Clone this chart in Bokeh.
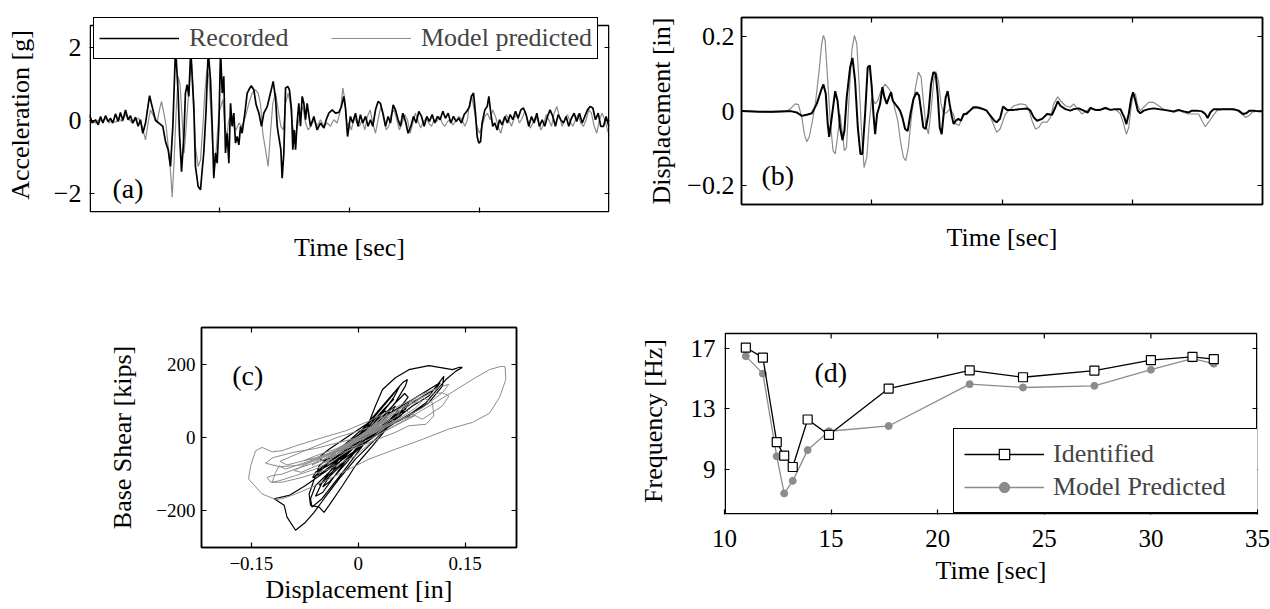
from bokeh.plotting import figure
from bokeh.layouts import column, row
from bokeh.models import (Range1d, FixedTicker, LinearAxis, CustomJSTickFormatter,
                          Legend, LegendItem, Label, BoxAnnotation)
from bokeh.embed import file_html
from bokeh.resources import INLINE

FONT = "Liberation Serif"
GRAY = "#8c8c8c"

# ---------------- (a) acceleration time history: (time, g) ----------------
acc_recorded = [
    (0.0,0.16),(0.21,-0.07),(0.46,0.02),(0.67,-0.12),(0.85,0.11),(1.03,-0.07),(1.23,0.13),(1.44,-0.03),
    (1.62,0.06),(1.79,-0.07),(2.0,0.18),(2.21,-0.03),(2.38,0.22),(2.56,0.0),(2.77,0.29),(2.97,0.02),
    (3.15,0.13),(3.33,-0.07),(3.54,0.09),(3.74,-0.16),(3.92,0.02),(4.10,-0.35),(4.31,-0.07),(4.62,0.68),
    (4.82,0.38),(5.08,0.0),(5.33,-0.07),(5.64,-0.16),(5.85,-0.58),(6.05,-0.80),(6.23,-1.26),(6.41,-0.16),
    (6.62,2.0),(6.82,0.75),(6.92,-0.35),(7.08,-1.40),(7.26,-0.44),(7.38,0.75),(7.51,0.98),(7.64,0.66),
    (7.79,1.95),(8.03,0.29),(8.15,-1.26),(8.36,-1.81),(8.54,-1.90),(8.67,-1.35),(8.79,-0.89),(8.97,0.29),
    (9.13,1.9),(9.31,1.11),(9.44,-0.16),(9.56,-1.58),(9.69,-0.89),(9.82,-1.17),(9.95,-0.16),(10.08,1.9),
    (10.21,0.75),(10.33,1.21),(10.46,-0.89),(10.59,-0.35),(10.72,-1.17),(10.85,0.47),(10.97,-0.16),(11.10,0.20),
    (11.23,-0.62),(11.36,-0.44),(11.49,-0.67),(11.62,-0.16),(11.74,-0.35),(11.95,0.20),(12.13,0.75),(12.26,0.84),
    (12.44,0.95),(12.64,0.84),(12.82,0.43),(13.03,0.20),(13.23,-0.16),(13.41,0.20),(13.67,0.38),(13.92,0.75),
    (14.13,1.07),(14.31,0.61),(14.44,-0.16),(14.56,-0.44),(14.72,-0.80),(14.82,-1.58),(14.95,-0.89),(15.08,0.89),
    (15.26,0.93),(15.38,0.84),(15.54,0.29),(15.64,-0.80),(15.74,-0.26),(15.85,-0.80),(15.97,-0.07),(16.10,0.47),
    (16.23,-0.16),(16.36,0.66),(16.49,0.47),(16.62,0.02),(16.74,0.47),(17.0,-0.16),(17.26,0.11),(17.51,-0.26),
    (17.77,-0.07),(18.03,-0.21),(18.21,0.02),(18.41,0.20),(18.67,0.29),(18.92,0.20),(19.18,0.22),(19.38,0.38),
    (19.56,0.66),(19.69,0.34),(19.85,-0.44),(20.07,0.11),(20.25,-0.07),(20.46,0.20),(20.66,-0.16),(20.84,0.16),
    (21.02,-0.07),(21.23,0.11),(21.43,-0.16),(21.61,0.02),(21.79,-0.16),(22.0,0.29),(22.20,0.52),(22.38,0.47),
    (22.56,0.20),(22.77,-0.16),(22.97,0.11),(23.15,-0.07),(23.36,0.43),(23.54,0.29),(23.74,0.02),(23.92,-0.16),
    (24.10,0.20),(24.31,-0.03),(24.51,-0.35),(24.72,-0.16),(24.92,0.11),(25.13,-0.07),(25.33,0.25),(25.54,0.11),
    (25.74,-0.16),(25.95,0.11),(26.15,-0.03),(26.36,0.16),(26.56,-0.07),(26.77,0.11),(26.97,0.02),(27.18,0.25),
    (27.38,0.06),(27.59,0.20),(27.79,-0.07),(28.0,0.11),(28.2,-0.03),(28.41,0.06),(28.61,-0.07),(28.82,0.16),
    (29.02,0.25),(29.23,0.38),(29.38,0.66),(29.54,0.75),(29.69,0.20),(29.82,-0.44),(29.95,-0.62),(30.08,-0.58),
    (30.2,-0.07),(30.41,0.29),(30.59,0.38),(30.72,0.66),(30.87,0.20),(31.02,-0.16),(31.18,-0.07),(31.36,-0.26),
    (31.54,0.02),(31.74,-0.12),(31.95,0.11),(32.15,-0.07),(32.36,0.16),(32.56,0.02),(32.77,0.25),(32.97,0.06),
    (33.18,0.29),(33.38,0.34),(33.59,0.16),(33.79,-0.16),(34.0,0.11),(34.2,-0.07),(34.41,0.20),(34.61,-0.16),
    (34.82,0.02),(35.02,-0.16),(35.23,0.11),(35.43,0.29),(35.64,0.11),(35.84,-0.16),(36.05,0.16),(36.25,0.02),
    (36.46,-0.07),(36.66,0.11),(36.87,-0.16),(37.07,0.06),(37.28,0.20),(37.48,-0.03),(37.69,0.20),(37.9,-0.07),
    (38.1,0.11),(38.31,0.29),(38.51,0.38),(38.72,0.34),(38.92,0.02),(39.13,0.20),(39.33,-0.16),(39.54,-0.16),
    (39.74,0.11),(39.95,-0.16),
]
acc_model = [
    (0.0,0.11),(0.21,-0.03),(0.46,-0.07),(0.72,0.02),(0.97,-0.03),(1.23,0.06),(1.49,-0.07),(1.74,0.0),
    (2.0,-0.05),(2.26,0.04),(2.51,-0.03),(2.77,0.16),(3.03,0.04),(3.28,-0.07),(3.54,0.02),(3.79,0.06),
    (4.05,-0.16),(4.31,-0.53),(4.51,-0.07),(4.69,0.29),(4.95,0.11),(5.21,-0.03),(5.38,0.29),(5.54,0.52),
    (5.72,0.20),(5.90,-0.16),(6.10,-0.89),(6.26,-1.53),(6.36,-2.10),(6.51,-1.08),(6.67,0.29),(6.82,1.21),
    (6.97,0.98),(7.13,0.02),(7.28,-0.89),(7.44,-0.16),(7.59,0.57),(7.74,1.21),(7.85,1.57),(8.0,0.75),
    (8.15,-0.71),(8.36,-1.26),(8.54,-1.08),(8.72,-0.16),(8.87,0.75),(9.03,1.39),(9.18,1.21),(9.33,0.29),
    (9.49,-0.80),(9.64,-1.26),(9.79,-0.62),(9.95,0.20),(10.10,0.38),(10.26,0.57),(10.41,-0.16),(10.56,-0.44),
    (10.72,0.02),(10.92,0.11),(11.10,-0.16),(11.28,-0.26),(11.49,-0.07),(11.74,-0.16),(12.0,0.11),(12.26,0.47),
    (12.51,0.75),(12.77,0.84),(12.97,0.75),(13.15,0.47),(13.33,-0.35),(13.54,-0.80),(13.74,-1.26),(13.92,-0.35),
    (14.10,0.47),(14.31,0.75),(14.51,0.29),(14.72,-0.16),(14.92,-0.26),(15.08,0.47),(15.28,0.75),(15.44,0.47),
    (15.59,-0.07),(15.79,-0.44),(16.0,-0.16),(16.23,0.20),(16.41,0.38),(16.62,-0.07),(16.82,-0.26),(17.03,-0.16),
    (17.26,0.02),(17.51,-0.16),(17.77,0.02),(18.03,-0.16),(18.28,-0.07),(18.54,-0.16),(18.79,0.02),(19.05,-0.07),
    (19.31,0.29),(19.49,0.89),(19.64,0.57),(19.82,-0.16),(19.95,-0.07),(20.15,-0.26),(20.36,0.11),(20.56,-0.07),
    (20.77,-0.16),(20.97,0.02),(21.18,-0.26),(21.38,0.11),(21.59,0.29),(21.79,-0.07),(22.0,-0.35),(22.2,0.02),
    (22.41,0.38),(22.61,0.20),(22.82,-0.26),(23.02,-0.16),(23.23,0.20),(23.43,0.29),(23.64,0.02),(23.84,-0.26),
    (24.05,-0.07),(24.25,0.16),(24.46,0.02),(24.66,-0.35),(24.87,-0.07),(25.07,0.20),(25.28,-0.03),(25.48,-0.21),
    (25.69,-0.03),(25.90,0.06),(26.1,-0.07),(26.31,-0.16),(26.51,0.02),(26.72,-0.03),(26.92,0.11),(27.13,-0.07),
    (27.33,-0.16),(27.54,-0.03),(27.74,0.02),(27.95,-0.12),(28.15,-0.03),(28.41,0.11),(28.66,0.02),(28.87,-0.16),
    (29.07,0.02),(29.23,0.47),(29.38,0.70),(29.59,0.29),(29.79,-0.16),(30.0,-0.35),(30.2,-0.16),(30.41,0.11),
    (30.61,0.20),(30.82,0.02),(31.02,0.29),(31.23,0.11),(31.43,-0.16),(31.64,-0.35),(31.84,-0.07),(32.05,0.16),
    (32.25,0.02),(32.46,-0.16),(32.66,0.06),(32.87,0.16),(33.07,-0.07),(33.28,0.06),(33.48,0.25),(33.69,0.02),
    (33.9,-0.21),(34.1,-0.07),(34.31,0.11),(34.51,-0.03),(34.72,-0.26),(34.92,-0.12),(35.13,0.16),(35.33,0.02),
    (35.54,-0.16),(35.74,0.20),(35.95,0.38),(36.15,0.11),(36.36,-0.16),(36.56,0.02),(36.77,0.16),(36.97,-0.03),
    (37.18,-0.16),(37.38,0.02),(37.59,0.16),(37.79,-0.07),(38.0,-0.16),(38.2,0.02),(38.41,0.29),(38.61,0.20),
    (38.82,-0.16),(39.02,-0.35),(39.23,0.02),(39.43,0.20),(39.64,0.02),(39.85,-0.26),(40.0,-0.44),
]

# ---------------- (b) displacement time history: (time, in) ----------------
disp_recorded = [
    (0.0,0.0),(1.30,-0.002),(2.33,-0.002),(3.35,-0.001),(3.86,-0.001),(4.25,-0.004),(4.63,-0.013),(5.01,-0.010),
    (5.40,-0.006),(5.78,0.019),(6.11,0.055),(6.29,0.071),(6.47,0.046),(6.62,-0.035),(6.73,-0.069),(6.93,-0.017),
    (7.19,0.053),(7.37,0.028),(7.57,-0.044),(7.75,-0.078),(7.90,-0.053),(8.08,0.037),(8.34,0.117),(8.52,0.142),
    (8.72,0.081),(8.93,-0.044),(9.13,-0.115),(9.28,-0.115),(9.49,-0.008),(9.69,0.117),(9.85,0.122),(10.0,0.064),
    (10.13,-0.008),(10.26,-0.062),(10.41,-0.008),(10.64,0.019),(10.82,0.064),(10.97,0.037),(11.15,0.019),(11.33,0.037),
    (11.48,0.050),(11.61,0.028),(11.79,0.019),(12.0,0.010),(12.17,0.001),(12.35,-0.017),(12.56,-0.048),(12.76,-0.053),
    (12.97,-0.008),(13.20,0.032),(13.45,0.050),(13.63,0.041),(13.79,0.001),(13.96,-0.044),(14.14,-0.048),(14.35,-0.008),
    (14.55,0.072),(14.73,0.104),(14.91,0.099),(15.06,0.046),(15.22,-0.044),(15.37,-0.062),(15.52,-0.008),(15.68,0.037),
    (15.83,0.053),(15.98,0.019),(16.14,-0.013),(16.29,-0.035),(16.45,-0.026),(16.65,-0.021),(16.85,-0.026),(17.06,-0.008),
    (17.26,-0.008),(17.54,0.001),(17.80,0.010),(18.06,0.010),(18.31,0.008),(18.57,0.005),(18.82,0.001),(19.0,-0.008),
    (19.21,-0.017),(19.41,-0.026),(19.59,-0.030),(19.85,-0.020),(20.08,0.012),(20.39,0.003),(20.90,0.003),(21.41,0.005),
    (21.93,0.007),(22.18,0.001),(22.44,-0.017),(22.69,-0.026),(23.08,-0.021),(23.46,-0.008),(23.84,-0.010),(24.10,0.010),
    (24.28,0.026),(24.48,0.014),(24.87,0.005),(25.25,0.001),(25.51,0.005),(25.89,0.007),(26.27,0.001),(26.58,-0.004),
    (26.79,0.008),(27.17,0.003),(27.55,0.003),(27.94,0.008),(28.32,0.003),(28.70,0.005),(29.09,0.005),(29.39,-0.017),
    (29.55,-0.035),(29.73,-0.008),(29.91,0.032),(30.06,0.050),(30.24,0.028),(30.42,0.001),(30.62,-0.006),(30.88,0.001),
    (31.26,0.005),(31.64,0.007),(32.03,0.005),(32.41,0.003),(32.80,0.001),(33.18,-0.001),(33.56,0.003),(33.95,-0.001),
    (34.33,-0.004),(34.59,0.001),(34.97,0.001),(35.35,-0.001),(35.61,-0.008),(35.79,-0.019),(35.99,-0.004),(36.25,0.005),
    (36.76,0.005),(37.27,0.005),(37.78,0.005),(38.17,0.001),(38.50,-0.008),(38.75,-0.006),(39.01,0.001),(39.32,0.001),
    (39.70,-0.001),(39.96,-0.001),
]
disp_model = [
    (0.0,0.001),(1.05,-0.001),(2.33,-0.004),(3.35,-0.002),(3.73,0.005),(4.12,0.019),(4.37,0.017),(4.63,-0.017),
    (4.83,-0.062),(5.01,-0.082),(5.19,-0.071),(5.45,-0.026),(5.70,0.028),(5.96,0.108),(6.16,0.180),(6.29,0.202),
    (6.42,0.189),(6.62,0.081),(6.83,-0.035),(7.03,-0.106),(7.19,-0.115),(7.37,-0.071),(7.57,-0.008),(7.75,-0.062),
    (7.90,-0.106),(8.06,-0.098),(8.26,0.037),(8.47,0.162),(8.67,0.202),(8.85,0.180),(9.03,0.072),(9.23,-0.062),
    (9.41,-0.151),(9.62,-0.124),(9.80,-0.035),(10.0,0.037),(10.26,0.019),(10.46,0.028),(10.72,0.055),(11.02,0.072),
    (11.33,0.059),(11.53,0.046),(11.74,0.010),(12.0,-0.026),(12.20,-0.080),(12.43,-0.124),(12.61,-0.133),(12.81,-0.098),
    (13.07,-0.008),(13.32,0.055),(13.58,0.104),(13.79,0.090),(13.96,0.028),(14.14,-0.035),(14.35,-0.062),(14.55,0.001),
    (14.76,0.081),(14.91,0.106),(15.12,0.081),(15.32,0.019),(15.52,-0.008),(15.75,-0.004),(16.01,0.005),(16.27,-0.008),
    (16.47,-0.035),(16.70,-0.039),(16.96,-0.017),(17.29,-0.004),(17.67,0.005),(18.06,0.008),(18.44,0.005),(18.82,0.001),
    (19.08,-0.013),(19.33,-0.035),(19.59,-0.057),(19.85,-0.048),(20.08,-0.026),(20.26,-0.008),(20.52,0.001),(20.90,0.014),
    (21.41,0.019),(21.80,0.017),(22.05,0.005),(22.31,-0.026),(22.57,-0.048),(22.82,-0.044),(23.08,-0.030),(23.46,-0.030),
    (23.72,-0.017),(23.97,0.019),(24.28,0.038),(24.53,0.026),(24.87,0.014),(25.25,0.010),(25.51,0.019),(25.81,0.005),
    (26.15,-0.008),(26.53,0.001),(26.79,0.010),(27.17,0.003),(27.55,0.005),(27.94,0.010),(28.32,0.003),(28.70,0.005),
    (29.09,-0.008),(29.34,-0.035),(29.55,-0.062),(29.73,-0.044),(29.91,0.010),(30.06,0.041),(30.24,0.046),(30.42,0.014),
    (30.62,0.001),(30.88,0.010),(31.26,0.023),(31.64,0.023),(32.03,0.014),(32.41,0.005),(32.80,0.001),(33.18,-0.004),
    (33.56,0.001),(33.95,-0.004),(34.33,-0.008),(34.71,-0.008),(35.10,-0.008),(35.35,-0.026),(35.61,-0.042),(35.86,-0.030),
    (36.12,-0.017),(36.50,0.001),(37.01,0.005),(37.53,0.005),(38.04,0.001),(38.42,-0.008),(38.68,-0.017),(38.93,-0.013),
    (39.19,-0.004),(39.57,0.001),(39.96,0.001),
]

# ---------------- (c) hysteresis: (displacement in, base shear kips) ----------------
hyst_recorded = [
    (0.0,0),(0.024,41),(0.034,59),(0.024,32),(-0.004,-9),(-0.032,-50),(-0.041,-59),(-0.027,-45),
    (0.006,14),(0.043,72),(0.052,86),(0.048,72),(0.015,14),(-0.027,-59),(-0.051,-86),(-0.058,-95),
    (-0.055,-77),(-0.032,-41),(0.006,23),(0.034,86),(0.062,149),(0.069,158),(0.066,140),(0.052,95),
    (0.024,32),(-0.013,-41),(-0.041,-95),(-0.060,-131),(-0.067,-167),(-0.065,-190),(-0.051,-167),(-0.022,-95),
    (0.006,-23),(0.015,41),(0.024,86),(0.034,131),(0.052,163),(0.071,185),(0.099,196),(0.118,190),
    (0.132,185),(0.141,191),(0.146,191),(0.137,181),(0.123,158),(0.109,127),(0.095,95),(0.076,68),
    (0.052,41),(0.024,5),(-0.008,-41),(-0.041,-86),(-0.074,-131),(-0.097,-158),(-0.118,-167),(-0.104,-185),
    (-0.100,-217),(-0.088,-253),(-0.074,-231),(-0.062,-204),(-0.048,-167),(-0.027,-113),(-0.004,-59),(0.024,-5),
    (0.052,50),(0.076,86),(0.099,113),(0.120,167),(0.118,140),(0.099,95),(0.071,59),(0.034,23),
    (-0.004,-23),(-0.041,-68),(-0.060,-104),(-0.069,-154),(-0.067,-185),(-0.055,-190),(-0.048,-204),(-0.041,-185),
    (-0.022,-131),(-0.004,-77),(0.020,-23),(0.043,32),(0.062,77),(0.071,95),(0.066,77),(0.043,41),
    (0.006,-9),(-0.027,-50),(-0.051,-63),(-0.055,-54),(-0.041,-32),(-0.013,5),(0.015,41),(0.038,72),
    (0.043,68),(0.024,41),(-0.008,-5),(-0.032,-36),(-0.036,-45),(-0.022,-27),(0.0,0),
    (0.02,30),(0.05,110),(0.058,140),(0.05,120),(0.02,50),(-0.02,-40),(-0.05,-120),(-0.06,-160),
    (-0.05,-150),(-0.02,-70),(0.01,0),(0.04,70),(0.065,120),(0.07,110),(0.05,60),(0.0,-30),
    (-0.04,-100),(-0.055,-130),(-0.045,-115),(-0.01,-50),(0.03,20),(0.06,60),(0.065,75),(0.05,55),
    (0.01,-5),(-0.03,-60),(-0.045,-80),(-0.03,-60),(0.0,-10),(0.03,40),(0.045,70),(0.03,50),
    (0.09,120),(0.115,150),(0.11,135),(0.08,100),(0.03,30),(-0.03,-50),(-0.06,-95),(-0.064,-110),
    (-0.05,-95),(-0.01,-35),(0.02,15),(0.0,0),
    (0.02,35),(0.045,95),(0.05,105),(0.035,75),(0.0,0),(-0.03,-75),(-0.045,-120),(-0.05,-135),
    (-0.04,-120),(-0.015,-65),(0.015,10),(0.0,0),
]
hyst_model = [
    (0.0,0),(0.020,32),(0.027,45),(0.015,18),(-0.013,-23),(-0.027,-41),(-0.018,-27),(0.010,14),
    (0.029,50),(0.034,59),(0.024,36),(-0.004,-9),(-0.032,-50),(-0.036,-54),(-0.022,-36),(0.006,5),
    (0.031,45),(0.041,66),(0.034,50),(0.006,5),(-0.022,-36),(-0.041,-63),(-0.046,-68),(-0.032,-50),
    (-0.004,-9),(0.034,50),(0.071,95),(0.099,118),(0.118,122),(0.127,113),(0.118,86),(0.090,50),
    (0.062,77),(0.090,109),(0.104,95),(0.106,59),(0.095,36),(0.071,32),(0.052,14),(0.015,-14),
    (-0.022,-41),(-0.060,-68),(-0.088,-86),(-0.107,-100),(-0.121,-104),(-0.128,-109),(-0.123,-122),(-0.107,-122),
    (-0.079,-109),(-0.041,-86),(-0.004,-50),(0.034,14),(0.076,59),(0.123,113),(0.160,158),(0.184,185),
    (0.200,194),(0.206,193),(0.207,158),(0.198,109),(0.184,66),(0.160,41),(0.127,23),(0.090,-5),
    (0.052,-32),(0.015,-59),(-0.022,-95),(-0.060,-131),(-0.088,-154),(-0.107,-167),(-0.116,-169),(-0.135,-154),
    (-0.154,-113),(-0.151,-77),(-0.144,-36),(-0.135,-27),(-0.121,-39),(-0.107,-36),(-0.088,-23),(-0.065,-9),
    (-0.041,5),(-0.018,18),(0.015,45),(0.052,81),(0.090,118),(0.118,140),(0.127,145),(0.118,122),
    (0.090,81),(0.052,41),(0.015,5),(-0.022,-27),(-0.060,-59),(-0.088,-77),(-0.102,-86),(-0.111,-77),
    (-0.116,-95),(-0.121,-122),(-0.111,-118),(-0.088,-104),(-0.060,-86),(-0.032,-59),(-0.004,-23),(0.020,14),
    (0.034,32),(0.024,23),(0.0,0),(0.015,20),(0.030,38),(0.010,10),(-0.020,-25),(-0.035,-40),
    (-0.015,-18),(0.012,15),(0.025,30),(0.0,2),(-0.025,-30),(-0.010,-12),(0.0,0),
    (0.01,10),(0.03,40),(0.04,55),(0.03,35),(0.0,-5),(-0.03,-40),(-0.04,-55),(-0.03,-38),
    (0.0,0),(0.025,30),(0.045,60),(0.05,65),(0.035,42),(-0.005,-10),(-0.035,-45),(-0.05,-62),
    (-0.04,-50),(-0.01,-12),(0.02,25),(0.04,48),(0.03,30),(-0.01,-15),(-0.03,-35),(-0.02,-20),
    (0.01,15),(0.035,50),(0.02,28),(-0.015,-22),(-0.045,-58),(-0.03,-45),(0.0,0),
    (0.03,50),(0.07,90),(0.09,100),(0.08,80),(0.04,30),(-0.02,-30),(-0.07,-70),(-0.09,-90),
    (-0.08,-95),(-0.05,-70),(0.0,-10),(0.05,45),(0.08,60),(0.06,40),(0.0,-20),(-0.06,-55),
    (-0.10,-75),(-0.11,-65),(-0.08,-40),(-0.03,0),(0.02,30),(0.0,0),
    (0.02,22),(0.035,45),(0.015,20),(-0.02,-25),(-0.04,-45),(-0.02,-28),(0.01,8),(0.03,35),
    (0.02,18),(-0.01,-12),(-0.025,-32),(0.0,0),
    (0.03,25),(0.055,60),(0.06,75),(0.045,58),(0.01,10),(-0.03,-35),(-0.055,-60),(-0.065,-75),
    (-0.05,-62),(-0.015,-20),(0.02,15),(0.05,45),(0.045,50),(0.01,5),(-0.03,-30),(-0.06,-50),
    (-0.075,-62),(-0.06,-58),(-0.02,-25),(0.0,0),(-0.06,-30),(-0.09,-40),(-0.12,-55),(-0.13,-70),
    (-0.11,-80),(-0.08,-75),(-0.05,-55),(-0.02,-30),(0.0,0),
]

# ---------------- (d) identified frequencies ----------------
freq_time = [11.0, 11.8, 12.45, 12.8, 13.2, 13.9, 14.9, 17.7, 21.5, 24.0, 27.35, 30.0, 31.95, 32.95]
freq_identified = [17.07, 16.4, 10.8, 9.9, 9.15, 12.3, 11.28, 14.35, 15.56, 15.1, 15.54, 16.23, 16.45, 16.3]
freq_model = [16.5, 15.34, 9.86, 7.4, 8.23, 10.27, 11.52, 11.87, 14.64, 14.42, 14.53, 15.6, 16.34, 16.0]

ticks_time_hidden = [10, 20, 30]
ticks_acc = [-2, 0, 2]
ticks_disp = [-0.2, 0, 0.2]
ticks_hx = [-0.15, 0, 0.15]
ticks_hy = [-200, 0, 200]
ticks_ft = [10, 15, 20, 25, 30, 35]
ticks_fy = [9, 13, 17]

# axes limits (x0, x1, y0, y1)
LIM_A = (0, 40, -2.52, 2.6)
LIM_B = (0, 40, -0.25, 0.25)
LIM_C = (-0.22, 0.222, -300, 300)
LIM_D = (10, 35, 6, 18)

minus_fmt = CustomJSTickFormatter(code="return tick < 0 ? '\\u2212' + String(-tick) : String(tick);")


def blank_fmt():
    return CustomJSTickFormatter(code="return '';")


def unzip(pairs):
    return [a for a, b in pairs], [b for a, b in pairs]


def make_fig(xr, yr, fw, fh, bl, br, bt, bb):
    p = figure(x_range=Range1d(*xr), y_range=Range1d(*yr), frame_width=fw, frame_height=fh,
               min_border_left=bl, min_border_right=br, min_border_top=bt, min_border_bottom=bb,
               output_backend="svg", toolbar_location=None, title_location=None,
               background_fill_color="white", border_fill_color="white")
    p.outline_line_color = "black"
    p.outline_line_width = 1.5
    p.xgrid.visible = False
    p.ygrid.visible = False
    return p


def style_axis(ax, ticks, fmt, fs, label_standoff=6):
    ax.ticker = FixedTicker(ticks=ticks)
    ax.formatter = fmt
    ax.major_tick_in = 5
    ax.major_tick_out = 0
    ax.minor_tick_line_color = None
    ax.axis_line_width = 1.5
    ax.axis_line_color = "black"
    ax.major_tick_line_width = 1.2
    ax.major_tick_line_color = "black"
    ax.major_label_text_font = FONT
    ax.major_label_text_font_size = fs
    ax.major_label_text_color = "black"
    ax.major_label_standoff = label_standoff
    ax.axis_label_text_font = FONT
    ax.axis_label_text_font_size = "26px"
    ax.axis_label_text_font_style = "normal"
    ax.axis_label_text_color = "black"


def mirror(p, xticks, yticks, top=True):
    if top:
        ax_t = LinearAxis()
        style_axis(ax_t, xticks, blank_fmt(), "1px", 0)
        p.add_layout(ax_t, "above")
    ax_r = LinearAxis()
    style_axis(ax_r, yticks, blank_fmt(), "1px", 0)
    p.add_layout(ax_r, "right")
    return ax_r


def boxed(p, lim, px_x, px_y, top_ticks=None):
    """Plot area is taller than the axes box: draw the box (and its top ticks) inside it."""
    x0, x1, y0, y1 = lim
    hx = 0.75 / px_x
    hy = 0.75 / px_y
    p.outline_line_color = None
    for ax in p.axis:
        ax.axis_line_color = None
    p.add_layout(BoxAnnotation(left=x0 + hx, right=x1 - hx, bottom=y0 + hy, top=y1,
                               fill_alpha=0, line_color="black", line_alpha=1.0, line_width=1.5))
    if top_ticks:
        p.segment(x0=top_ticks, x1=top_ticks, y0=[y1] * len(top_ticks),
                  y1=[y1 - 5.0 / px_y] * len(top_ticks), line_color="black", line_width=1.2)


def panel_label(p, x, y, text):
    p.add_layout(Label(x=x, y=y, text=text, text_font=FONT, text_font_size="28px",
                       text_baseline="middle", text_align="left", text_color="black"))


# ---------------- panel (a) ----------------
PXA = 36.52  # px per g
pa = make_fig((LIM_A[0], LIM_A[1]), (LIM_A[2], LIM_A[3] + 8 / PXA), 520, 195, 89, 31, 17, 88)
style_axis(pa.xaxis[0], ticks_time_hidden, blank_fmt(), "1px", 0)
pa.xaxis[0].axis_label = "Time [sec]"
pa.xaxis[0].axis_label_standoff = 20
style_axis(pa.yaxis[0], ticks_acc, minus_fmt, "26px", 8)
pa.yaxis[0].axis_label = "Acceleration [g]"
pa.yaxis[0].axis_label_standoff = 16
mirror(pa, ticks_time_hidden, ticks_acc, top=False)
boxed(pa, LIM_A, 13.0, PXA)
t, v = unzip(acc_model)
ra_m = pa.line(t, v, line_color=GRAY, line_width=1.2)
t, v = unzip(acc_recorded)
ra_r = pa.line(t, v, line_color="black", line_width=1.7)
panel_label(pa, 1.77, -1.86, "(a)")
leg_a = Legend(items=[LegendItem(label="Recorded", renderers=[ra_r]),
                      LegendItem(label="Model predicted", renderers=[ra_m])],
               orientation="horizontal", location=(4, 153), glyph_width=80, glyph_height=20,
               label_standoff=10, spacing=32, padding=5, label_width=110,
               label_text_font=FONT, label_text_font_size="26px",
               border_line_color="black", border_line_width=1.5, border_line_alpha=1.0,
               background_fill_color="white", background_fill_alpha=1.0)
pa.add_layout(leg_a)

# ---------------- panel (b) ----------------
pb = make_fig((LIM_B[0], LIM_B[1]), (LIM_B[2], LIM_B[3]), 521, 187, 101, 8, 17, 96)
style_axis(pb.xaxis[0], ticks_time_hidden, blank_fmt(), "1px", 0)
pb.xaxis[0].axis_label = "Time [sec]"
pb.xaxis[0].axis_label_standoff = 18
style_axis(pb.yaxis[0], ticks_disp, minus_fmt, "26px", 7)
pb.yaxis[0].axis_label = "Displacement [in]"
pb.yaxis[0].axis_label_standoff = 8
mirror(pb, ticks_time_hidden, ticks_disp)
t, v = unzip(disp_model)
pb.line(t, v, line_color=GRAY, line_width=1.2)
t, v = unzip(disp_recorded)
pb.line(t, v, line_color="black", line_width=2.0)
panel_label(pb, 1.53, -0.172, "(b)")

# ---------------- panel (c) ----------------
pc = make_fig((LIM_C[0], LIM_C[1]), (LIM_C[2], LIM_C[3]), 315, 220, 201, 118, 27, 62)
style_axis(pc.xaxis[0], ticks_hx, minus_fmt, "19px", 9)
pc.xaxis[0].axis_label = "Displacement [in]"
pc.xaxis[0].axis_label_standoff = 2
style_axis(pc.yaxis[0], ticks_hy, minus_fmt, "19px", 6)
pc.yaxis[0].axis_label = "Base Shear [kips]"
pc.yaxis[0].axis_label_standoff = 16
mirror(pc, ticks_hx, ticks_hy)
d, s = unzip(hyst_recorded)
pc.line(d, s, line_color="black", line_width=1.2)
d, s = unzip(hyst_model)
pc.line(d, s, line_color=GRAY, line_width=1.0)
panel_label(pc, -0.177, 170, "(c)")

# ---------------- panel (d) ----------------
PXD = 15.083  # px per Hz
pd_ = make_fig((LIM_D[0], LIM_D[1]), (LIM_D[2], LIM_D[3] + 6 / PXD), 533, 187, 90, 13, 27, 95)
style_axis(pd_.xaxis[0], ticks_ft, minus_fmt, "25px", 15)
pd_.xaxis[0].axis_label = "Time [sec]"
pd_.xaxis[0].axis_label_standoff = 6
style_axis(pd_.yaxis[0], ticks_fy, minus_fmt, "25px", 9)
pd_.yaxis[0].axis_label = "Frequency [Hz]"
pd_.yaxis[0].axis_label_standoff = 20
mirror(pd_, ticks_ft, ticks_fy, top=False)
boxed(pd_, LIM_D, 21.32, PXD, top_ticks=ticks_ft[1:-1])
l_m = pd_.line(freq_time, freq_model, line_color=GRAY, line_width=1.3)
s_m = pd_.scatter(freq_time, freq_model, marker="circle", size=7, fill_color=GRAY, line_color=GRAY)
l_i = pd_.line(freq_time, freq_identified, line_color="black", line_width=1.3)
s_i = pd_.scatter(freq_time, freq_identified, marker="square", size=9, fill_color="white",
                  line_color="black", line_width=1.2)
panel_label(pd_, 14.22, 15.43, "(d)")
leg_d = Legend(items=[LegendItem(label="Identified", renderers=[l_i, s_i]),
                      LegendItem(label="Model Predicted", renderers=[l_m, s_m])],
               orientation="vertical", location=(229, 1), glyph_width=80, glyph_height=26,
               label_standoff=9, spacing=3, padding=10, label_width=194,
               label_text_font=FONT, label_text_font_size="26px",
               border_line_color="black", border_line_width=1.5, border_line_alpha=1.0,
               background_fill_color="white", background_fill_alpha=1.0)
pd_.add_layout(leg_d)

layout = column(row(pa, pb), row(pc, pd_))
with open("out.html", "w", encoding="utf-8") as f:
    f.write(file_html(layout, INLINE))
